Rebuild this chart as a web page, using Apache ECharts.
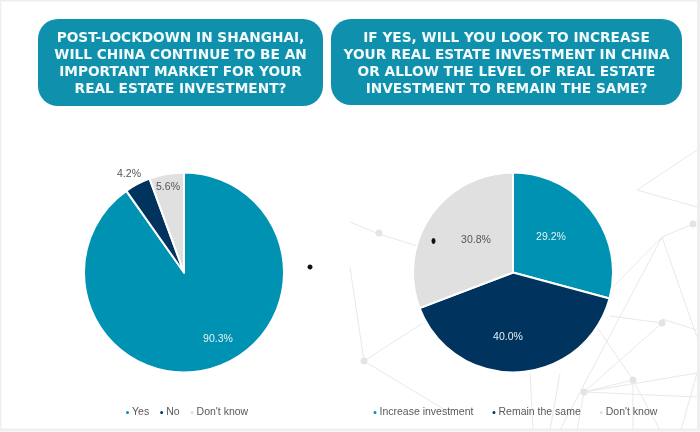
<!DOCTYPE html>
<html>
<head>
<meta charset="utf-8">
<script src="https://cdn.jsdelivr.net/npm/echarts@6/dist/echarts.min.js"></script>
<style>
html, body { margin: 0; padding: 0; background: #fff; }
#container { width: 700px; height: 432px; filter: blur(0.4px); }
</style>
</head>
<body>
<div id="container"></div>
<script>
'use strict';
var leftNames = ['Yes', 'No', "Don't know"];
var leftValues = [90.3, 4.2, 5.6];
var rightNames = ['Increase investment', 'Remain the same', "Don't know"];
var rightValues = [29.2, 40.0, 30.8];
var leftTitle = ['POST-LOCKDOWN IN SHANGHAI,', 'WILL CHINA CONTINUE TO BE AN', 'IMPORTANT MARKET FOR YOUR', 'REAL ESTATE INVESTMENT?'];
var rightTitle = ['IF YES, WILL YOU LOOK TO INCREASE', 'YOUR REAL ESTATE INVESTMENT IN CHINA', 'OR ALLOW THE LEVEL OF REAL ESTATE', 'INVESTMENT TO REMAIN THE SAME?'];

var TEAL = '#0092b2', NAVY = '#00345f', GREY = '#e0e0e0';
var leftLabelPos = [[218, 339], [129, 174], [168, 187]];
var rightLabelPos = [[551, 237], [508, 337], [476, 240]];

// faint network behind the right pie
var netLines = [
    [364, 361, 423, 323], [364, 361, 450, 413], [364, 361, 350, 267], [379, 234, 350, 222],
    [379, 234, 430, 250], [584, 392, 662, 323], [584, 392, 633, 380], [633, 380, 597, 327],
    [584, 392, 697, 373], [584, 392, 697, 397], [530, 373, 533, 430], [560, 373, 550, 430],
    [584, 392, 577, 430], [633, 380, 633, 430], [662, 237, 610, 290], [662, 237, 697, 337],
    [662, 237, 693, 224], [637, 190, 697, 150], [637, 190, 697, 207], [662, 319, 697, 330],
    [662, 237, 560, 430], [610, 316, 662, 323], [697, 373, 681, 430], [633, 380, 660, 430]
];
var netNodes = [[379, 233], [662, 323], [584, 392], [633, 380], [693, 224], [364, 361]];

function headerBox(x, y, w, h, lines) {
    var cx = x + w / 2;
    var items = [{
        type: 'rect',
        shape: { x: x, y: y, width: w, height: h, r: 20 },
        style: { fill: '#0f91ae' }
    }];
    lines.forEach(function (line, i) {
        items.push({
            type: 'text',
            x: cx,
            y: y + 19 + i * 17,
            style: {
                text: line,
                fill: '#f2fafc',
                font: 'bold 13.7px "DejaVu Sans", sans-serif',
                align: 'center',
                verticalAlign: 'middle'
            }
        });
    });
    return items;
}

var graphics = [];
netLines.forEach(function (s) {
    graphics.push({
        type: 'line',
        shape: { x1: s[0], y1: s[1], x2: s[2], y2: s[3] },
        style: { stroke: '#e9e9e9', lineWidth: 1 }
    });
});
netNodes.forEach(function (n) {
    graphics.push({ type: 'circle', shape: { cx: n[0], cy: n[1], r: 3.5 }, style: { fill: '#e4e4e4' } });
});
graphics = graphics.concat(headerBox(38, 19, 285, 87, leftTitle));
graphics = graphics.concat(headerBox(331, 19, 351, 86, rightTitle));
// the two stray dots in the picture
graphics.push({ type: 'ellipse', z: 10, shape: { cx: 310, cy: 267, rx: 2.5, ry: 2.5 }, style: { fill: '#111' } });
graphics.push({ type: 'ellipse', z: 10, shape: { cx: 433.5, cy: 241, rx: 2, ry: 3 }, style: { fill: '#111' } });
// pale frame of the screenshot
graphics.push({ type: 'rect', shape: { x: 0, y: 0, width: 698.5, height: 430 }, style: { fill: 'none', stroke: '#efefef', lineWidth: 3 } });

function pieSeries(cx, names, values, labelPos) {
    return {
        type: 'pie',
        center: [cx, 272.5],
        radius: [0, 100],
        startAngle: 90,
        clockwise: true,
        animation: false,
        silent: true,
        itemStyle: { borderColor: '#fff', borderWidth: 2 },
        label: { show: true, position: 'inside', fontSize: 10.5, fontFamily: 'Liberation Sans' },
        labelLine: { show: false },
        labelLayout: function (params) {
            var p = labelPos[params.dataIndex];
            return { x: p[0], y: p[1], align: 'center', verticalAlign: 'middle' };
        },
        data: values.map(function (v, i) {
            var light = i === 0 || (i === 1 && labelPos === rightLabelPos);
            return {
                name: names[i],
                value: v,
                itemStyle: { color: [TEAL, NAVY, GREY][i] },
                label: {
                    formatter: v.toFixed(1) + '%',
                    color: light ? '#e6eff3' : '#555'
                }
            };
        })
    };
}

function legendFor(left, names, gap) {
    return {
        left: left,
        top: 407,
        padding: 0,
        icon: 'circle',
        itemWidth: 5,
        itemHeight: 5,
        itemGap: gap,
        selectedMode: false,
        data: names,
        textStyle: { fontSize: 10.5, color: '#595959', fontFamily: 'Liberation Sans', padding: [0, 0, 0, -3] }
    };
}

var myChart = echarts.init(document.getElementById('container'));
myChart.setOption({
    backgroundColor: '#ffffff',
    animation: false,
    graphic: { elements: graphics },
    legend: [legendFor(124, leftNames, 9), legendFor(371.5, rightNames, 17)],
    series: [
        pieSeries(184, leftNames, leftValues, leftLabelPos),
        pieSeries(513, rightNames, rightValues, rightLabelPos)
    ]
});
</script>
</body>
</html>
